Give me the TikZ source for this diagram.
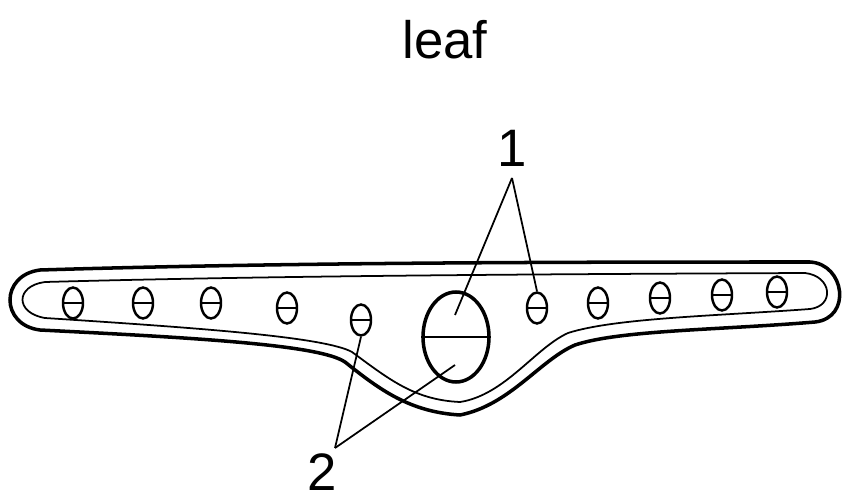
\documentclass[tikz,border=0pt]{standalone}
\usepackage{fontspec}
\setmainfont{Liberation Sans}
\usetikzlibrary{positioning}
\tikzset{
  pore/.style={draw, line width=1.4pt, ellipse, minimum width=20\unitlen, minimum height=31\unitlen, inner sep=0pt},
  lbl/.style={font=\fontsize{30}{30}\selectfont},
  pointer/.style={line width=1pt}
}
\newlength{\unitlen}
\setlength{\unitlen}{0.02cm}
\usetikzlibrary{shapes.geometric}
\begin{document}
\begin{tikzpicture}[x=0.02cm, y=-0.02cm]
    \useasboundingbox (0,0) rectangle (848,503);
    \node[lbl] (title) at (445,40) {leaf};
    % outer outline
    \draw[line width=2pt]
        (40,270) .. controls (300,262) and (600,262) .. (810,262)
        .. controls (845,264) and (852,318) .. (815,322)
        .. controls (720,330) and (620,330) .. (575,345)
        .. controls (540,360) and (510,405) .. (460,415)
        .. controls (410,412) and (380,390) .. (345,362)
        .. controls (320,345) and (200,338) .. (40,330)
        .. controls (0,325) and (0,275) .. (40,270) -- cycle;
    % inner outline
    \draw[line width=1pt]
        (45,282) .. controls (300,275) and (600,274) .. (805,273)
        .. controls (832,276) and (835,306) .. (810,309)
        .. controls (715,316) and (615,318) .. (568,333)
        .. controls (535,348) and (505,395) .. (460,402)
        .. controls (415,400) and (390,380) .. (352,352)
        .. controls (325,337) and (200,328) .. (45,318)
        .. controls (15,313) and (15,286) .. (45,282) -- cycle;
    % small pores
    \foreach \px/\py [count=\i] in {73/303, 143/303, 211/303, 287/308, 361/320,
                                    537/308, 598/303, 660/298, 722/295, 777/292} {
        \node[pore] (p\i) at (\px,\py) {};
        \draw[line width=1pt] (p\i.west) -- (p\i.east);
    }
    % large pore
    \node[draw, line width=2pt, ellipse, minimum width=66\unitlen, minimum height=90\unitlen, inner sep=0pt] (big) at (456,337) {};
    \draw[line width=1pt] (big.west) -- (big.east);
    % labels
    \node[lbl] (one) at (512,148) {1};
    \node[lbl] (two) at (322,472) {2};
    \coordinate (o1) at (512,178);
    \coordinate (o2) at (335,448);
    \draw[pointer] (o1) -- (455,315);
    \draw[pointer] (o1) -- (p6.north);
    \draw[pointer] (o2) -- (p5.south);
    \draw[pointer] (o2) -- (455,365);
\end{tikzpicture}
\end{document}
